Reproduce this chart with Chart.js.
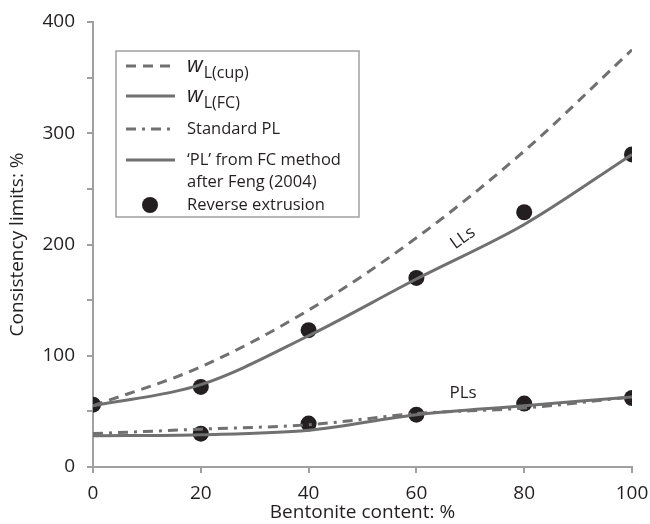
<!DOCTYPE html>
<html>
<head>
<meta charset="utf-8">
<script src="https://cdn.jsdelivr.net/npm/chart.js@4"></script>
<style>
  html, body { margin: 0; padding: 0; background: #fff; }
  #wrap { width: 650px; height: 524px; position: relative; }
</style>
</head>
<body>
<div id="wrap"><canvas id="chart"></canvas></div>
<script>
// Bentonite content (%) and consistency limits
const bentonite = [0, 20, 40, 60, 80, 100];
const wLcup = [55, 90, 141, 206, 284, 375];
const wLfc = [55, 74, 118, 169, 218, 281];
const standardPL = [30, 34, 38, 48, 53, 63];
const plFC = [28, 29, 33, 47, 55, 63];
const reverseLLx = [0, 20, 40, 60, 80, 100];
const reverseLL = [56, 72, 123, 170, 229, 281];
const reversePLx = [20, 40, 60, 80, 100];
const reversePL = [30, 39, 47, 57, 62];
const xTicks = [0, 20, 40, 60, 80, 100];
const yTicks = [0, 100, 200, 300, 400];

const LINE = "#707070";
const AXIS = "#a0a0a0";
const TEXT = "#231f20";
const FONT = "'Open Sans', 'Noto Sans', sans-serif";

const pts = (xs, ys) => xs.map((x, i) => ({ x, y: ys[i] }));

function lineSet(label, data, dash) {
  return {
    label, data: pts(bentonite, data), showLine: true,
    borderColor: LINE, backgroundColor: LINE, borderWidth: 3,
    borderDash: dash, pointRadius: 0, cubicInterpolationMode: "monotone",
  };
}

const datasets = [
  lineSet("wL(cup)", wLcup, [10, 7]),
  lineSet("wL(FC)", wLfc, []),
  lineSet("Standard PL", standardPL, [10, 6, 3, 6]),
  lineSet("'PL' from FC method", plFC, []),
  {
    label: "Reverse extrusion",
    data: pts(reverseLLx, reverseLL).concat(pts(reversePLx, reversePL)),
    showLine: false, pointRadius: 8, pointBackgroundColor: TEXT,
    pointBorderColor: TEXT, pointBorderWidth: 0,
  },
];

// Legend box and in-plot annotations
const legendPlugin = {
  id: "boxLegend",
  afterDatasetsDraw(chart) {
    const ctx = chart.ctx;
    ctx.save();
    ctx.fillStyle = "#fff";
    ctx.fillRect(116, 51, 243, 166);
    ctx.strokeStyle = AXIS;
    ctx.lineWidth = 1.5;
    ctx.strokeRect(116, 51, 243, 166);

    const x0 = 126, x1 = 175, tx = 187;
    const sample = (y, dash) => {
      ctx.beginPath();
      ctx.setLineDash(dash);
      ctx.strokeStyle = LINE;
      ctx.lineWidth = 3;
      ctx.moveTo(x0, y); ctx.lineTo(x1, y); ctx.stroke();
      ctx.setLineDash([]);
    };
    const wLabel = (y, sub) => {
      ctx.fillStyle = TEXT;
      ctx.textBaseline = "alphabetic";
      ctx.font = "italic 22px " + FONT;
      ctx.fillText("w", tx, y + 6);
      const w = ctx.measureText("w").width;
      ctx.font = "16px " + FONT;
      ctx.fillText(sub, tx + w + 1, y + 12);
    };
    sample(66, [10, 7]); wLabel(66, "L(cup)");
    sample(96, []); wLabel(96, "L(FC)");
    sample(129, [10, 6, 3, 6]);
    ctx.fillStyle = TEXT;
    ctx.font = "16.5px " + FONT;
    ctx.textBaseline = "middle";
    ctx.fillText("Standard PL", tx, 129);
    sample(160, []);
    ctx.fillText("\u2018PL\u2019 from FC method", tx, 160);
    ctx.fillText("after Feng (2004)", tx, 182);
    ctx.beginPath();
    ctx.arc(150, 205, 8, 0, Math.PI * 2);
    ctx.fill();
    ctx.fillText("Reverse extrusion", tx, 205);

    // curve labels
    ctx.font = "17px " + FONT;
    ctx.textAlign = "center";
    ctx.save();
    ctx.translate(463, 238);
    ctx.rotate(-0.62);
    ctx.fillText("LLs", 0, 0);
    ctx.restore();
    ctx.fillText("PLs", 463, 393);
    ctx.restore();
  },
};

new Chart(document.getElementById("chart"), {
  type: "scatter",
  data: { datasets },
  options: {
    responsive: true,
    maintainAspectRatio: false,
    animation: false,
    layout: { padding: { top: 22, right: 18, left: 0, bottom: 0 } },
    plugins: { legend: { display: false }, tooltip: { enabled: false } },
    scales: {
      x: {
        type: "linear", min: 0, max: 100,
        afterFit: (s) => { s.height = 57; s.paddingLeft = 0; s.paddingRight = 0; },
        afterBuildTicks: (s) => { s.ticks = xTicks.map((v) => ({ value: v })); },
        border: { color: AXIS, width: 2 },
        grid: { drawOnChartArea: false, color: AXIS, lineWidth: 2, tickLength: 6 },
        ticks: { color: TEXT, font: { family: FONT, size: 19 }, padding: 9 },
        title: { display: true, text: "Bentonite content: %", color: TEXT,
                 font: { family: FONT, size: 19 }, padding: { top: -9, bottom: 0 } },
      },
      y: {
        type: "linear", min: 0, max: 400,
        afterFit: (s) => { s.width = 93; s.paddingTop = 0; s.paddingBottom = 0; },
        ticks: {
          stepSize: 50, color: TEXT, font: { family: FONT, size: 19 }, padding: 12,
          callback: (v) => (yTicks.includes(v) ? String(v) : ""),
        },
        border: { color: AXIS, width: 2 },
        grid: { drawOnChartArea: false, color: AXIS, lineWidth: 2, tickLength: 6 },
        title: { display: true, text: "Consistency limits: %", color: TEXT,
                 font: { family: FONT, size: 19 }, padding: { top: 6, bottom: 4 } },
      },
    },
  },
  plugins: [legendPlugin],
});
</script>
</body>
</html>
